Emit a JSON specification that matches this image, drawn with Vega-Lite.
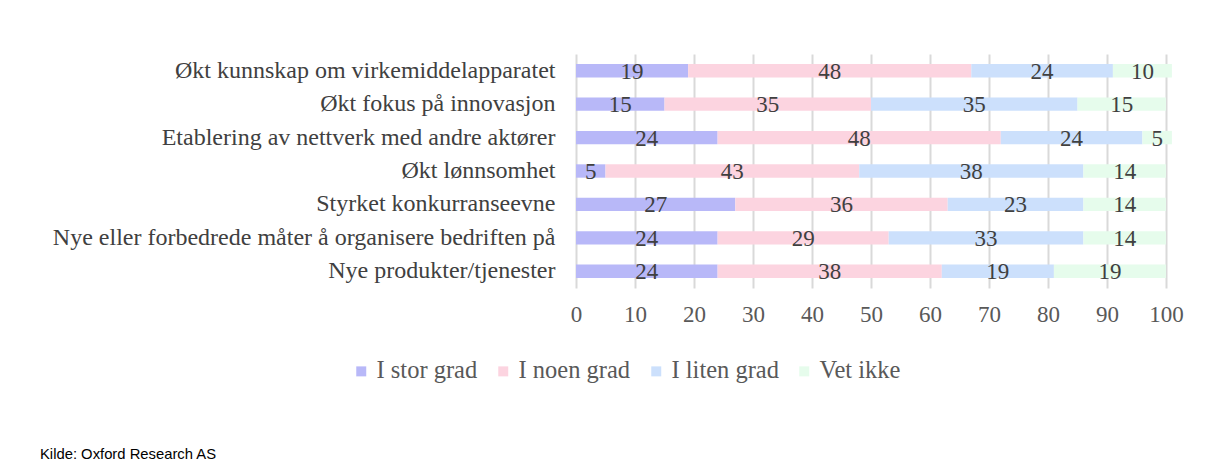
{
  "$schema": "https://vega.github.io/schema/vega-lite/v6.json",
  "width": 590,
  "height": 234,
  "autosize": "none",
  "padding": {"left": 576, "top": 54, "right": 44, "bottom": 178},
  "background": "white",
  "config": {
    "view": {"stroke": null},
    "font": "Liberation Serif"
  },
  "title": {
    "text": "Kilde: Oxford Research AS",
    "orient": "bottom",
    "anchor": "start",
    "frame": "group",
    "dx": -536,
    "offset": 64,
    "font": "Liberation Sans Narrow, Liberation Sans",
    "fontSize": 14.8,
    "fontWeight": "normal",
    "color": "#000000"
  },
  "data": {
    "values": [
      {"cat": "Økt kunnskap om virkemiddelapparatet", "grp": "I stor grad", "o": 1, "v": 19},
      {"cat": "Økt kunnskap om virkemiddelapparatet", "grp": "I noen grad", "o": 2, "v": 48},
      {"cat": "Økt kunnskap om virkemiddelapparatet", "grp": "I liten grad", "o": 3, "v": 24},
      {"cat": "Økt kunnskap om virkemiddelapparatet", "grp": "Vet ikke", "o": 4, "v": 10},
      {"cat": "Økt fokus på innovasjon", "grp": "I stor grad", "o": 1, "v": 15},
      {"cat": "Økt fokus på innovasjon", "grp": "I noen grad", "o": 2, "v": 35},
      {"cat": "Økt fokus på innovasjon", "grp": "I liten grad", "o": 3, "v": 35},
      {"cat": "Økt fokus på innovasjon", "grp": "Vet ikke", "o": 4, "v": 15},
      {"cat": "Etablering av nettverk med andre aktører", "grp": "I stor grad", "o": 1, "v": 24},
      {"cat": "Etablering av nettverk med andre aktører", "grp": "I noen grad", "o": 2, "v": 48},
      {"cat": "Etablering av nettverk med andre aktører", "grp": "I liten grad", "o": 3, "v": 24},
      {"cat": "Etablering av nettverk med andre aktører", "grp": "Vet ikke", "o": 4, "v": 5},
      {"cat": "Økt lønnsomhet", "grp": "I stor grad", "o": 1, "v": 5},
      {"cat": "Økt lønnsomhet", "grp": "I noen grad", "o": 2, "v": 43},
      {"cat": "Økt lønnsomhet", "grp": "I liten grad", "o": 3, "v": 38},
      {"cat": "Økt lønnsomhet", "grp": "Vet ikke", "o": 4, "v": 14},
      {"cat": "Styrket konkurranseevne", "grp": "I stor grad", "o": 1, "v": 27},
      {"cat": "Styrket konkurranseevne", "grp": "I noen grad", "o": 2, "v": 36},
      {"cat": "Styrket konkurranseevne", "grp": "I liten grad", "o": 3, "v": 23},
      {"cat": "Styrket konkurranseevne", "grp": "Vet ikke", "o": 4, "v": 14},
      {"cat": "Nye eller forbedrede måter å organisere bedriften på", "grp": "I stor grad", "o": 1, "v": 24},
      {"cat": "Nye eller forbedrede måter å organisere bedriften på", "grp": "I noen grad", "o": 2, "v": 29},
      {"cat": "Nye eller forbedrede måter å organisere bedriften på", "grp": "I liten grad", "o": 3, "v": 33},
      {"cat": "Nye eller forbedrede måter å organisere bedriften på", "grp": "Vet ikke", "o": 4, "v": 14},
      {"cat": "Nye produkter/tjenester", "grp": "I stor grad", "o": 1, "v": 24},
      {"cat": "Nye produkter/tjenester", "grp": "I noen grad", "o": 2, "v": 38},
      {"cat": "Nye produkter/tjenester", "grp": "I liten grad", "o": 3, "v": 19},
      {"cat": "Nye produkter/tjenester", "grp": "Vet ikke", "o": 4, "v": 19}
    ]
  },
  "transform": [
    {"stack": "v", "groupby": ["cat"], "sort": [{"field": "o", "order": "ascending"}], "as": ["x0", "x1"]},
    {"calculate": "(datum.x0 + datum.x1) / 2", "as": "mid"}
  ],
  "encoding": {
    "y": {
      "field": "cat",
      "type": "nominal",
      "sort": null,
      "title": null,
      "scale": {"paddingInner": 0.6, "paddingOuter": 0.3},
      "axis": {
        "domain": false,
        "ticks": false,
        "labelFont": "Liberation Serif",
        "labelFontSize": 24,
        "labelColor": "#404040",
        "labelPadding": 21,
        "labelLimit": 700
      }
    }
  },
  "layer": [
    {
      "mark": {"type": "bar"},
      "encoding": {
        "x": {
          "field": "x0",
          "type": "quantitative",
          "scale": {"domain": [0, 100], "nice": false},
          "title": null,
          "axis": {
            "values": [0, 10, 20, 30, 40, 50, 60, 70, 80, 90, 100],
            "domain": false,
            "ticks": false,
            "grid": true,
            "gridColor": "#d9d9d9",
            "gridWidth": 2,
            "labelFlush": false,
            "labelFont": "Liberation Serif",
            "labelFontSize": 23,
            "labelColor": "#595959",
            "labelPadding": 15
          }
        },
        "x2": {"field": "x1"},
        "color": {
          "field": "grp",
          "type": "nominal",
          "sort": ["I stor grad", "I noen grad", "I liten grad", "Vet ikke"],
          "scale": {
            "domain": ["I stor grad", "I noen grad", "I liten grad", "Vet ikke"],
            "range": ["#b8b8f8", "#fcd4e0", "#cce0fc", "#e6fcec"]
          },
          "legend": {
            "title": null,
            "orient": "none",
            "direction": "horizontal",
            "legendX": -227,
            "legendY": 305,
            "symbolType": "square",
            "symbolSize": 100,
            "symbolStrokeWidth": 0,
            "labelFont": "Liberation Serif",
            "labelFontSize": 24.5,
            "labelColor": "#595959",
            "labelOffset": 3,
            "columnPadding": 13
          }
        }
      }
    },
    {
      "mark": {"type": "text", "font": "Liberation Serif", "fontSize": 23, "color": "#404040", "baseline": "middle", "dy": 1},
      "encoding": {
        "x": {"field": "mid", "type": "quantitative"},
        "text": {"field": "v", "type": "quantitative"}
      }
    }
  ]
}
